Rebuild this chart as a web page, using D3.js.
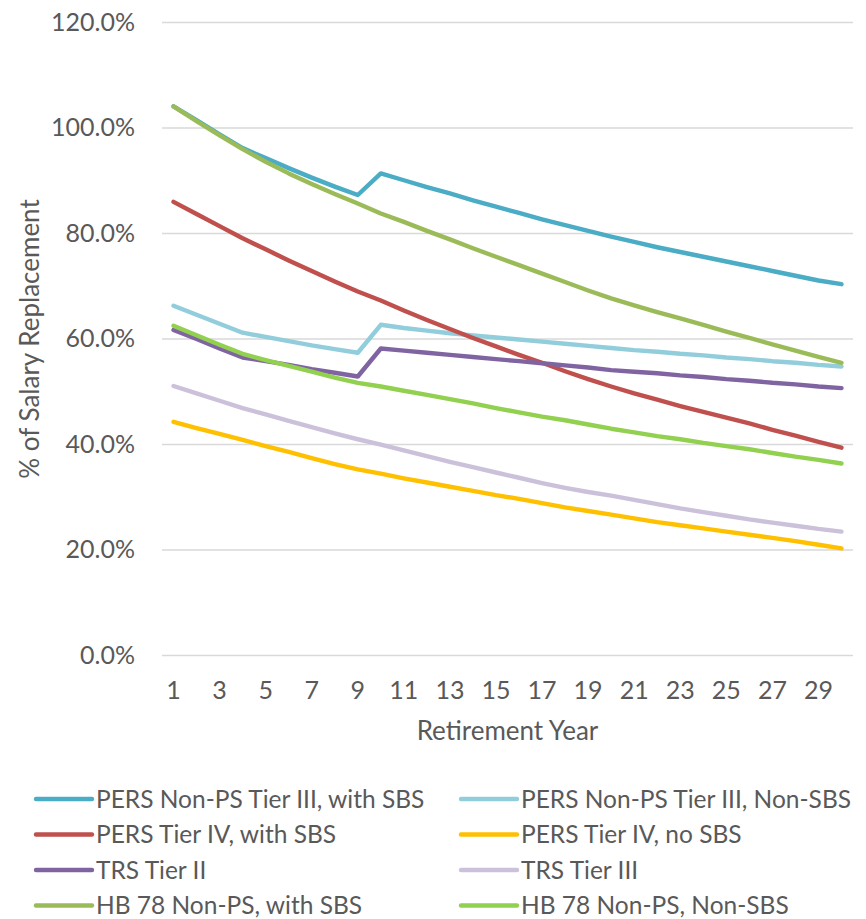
<!DOCTYPE html>
<html>
<head>
<meta charset="utf-8">
<script src="https://cdn.jsdelivr.net/npm/d3@7"></script>
<style>
  html, body { margin: 0; padding: 0; background: #fff; }
  svg { display: block; }
  text { font-family: Lato, "Open Sans", sans-serif; fill: #595959; }
</style>
</head>
<body>
<svg id="chart" width="866" height="919"></svg>
<script>
// Retirement years on the category axis
const years = d3.range(1, 31);
const yTicks = [0, 20, 40, 60, 80, 100, 120];

// Salary replacement (%) by retirement year, one array per plan
const persNonPsTier3Sbs = [104.0, 101.4, 98.7, 96.1, 94.2, 92.3, 90.5, 88.8, 87.2, 91.3,
  90.0, 88.7, 87.5, 86.2, 85.0, 83.8, 82.6, 81.5, 80.4, 79.3,
  78.3, 77.3, 76.4, 75.5, 74.6, 73.7, 72.8, 71.9, 71.0, 70.3];
const persNonPsTier3NonSbs = [66.2, 64.5, 62.8, 61.1, 60.3, 59.5, 58.7, 58.0, 57.3, 62.6,
  62.0, 61.5, 61.0, 60.6, 60.2, 59.8, 59.4, 59.0, 58.6, 58.2,
  57.8, 57.5, 57.1, 56.8, 56.4, 56.1, 55.7, 55.4, 55.0, 54.7];
const persTier4Sbs = [85.9, 83.6, 81.3, 79.0, 76.9, 74.8, 72.8, 70.8, 68.9, 67.2,
  65.3, 63.5, 61.8, 60.1, 58.5, 56.9, 55.4, 53.8, 52.3, 50.9,
  49.6, 48.4, 47.2, 46.1, 45.0, 43.9, 42.7, 41.6, 40.4, 39.3];
const persTier4NoSbs = [44.2, 43.0, 41.9, 40.8, 39.6, 38.5, 37.3, 36.2, 35.2, 34.4,
  33.5, 32.7, 31.9, 31.1, 30.3, 29.6, 28.8, 28.0, 27.3, 26.6,
  25.9, 25.2, 24.6, 24.0, 23.4, 22.8, 22.2, 21.6, 20.9, 20.2];
const trsTier2 = [61.6, 59.9, 58.1, 56.4, 55.7, 55.0, 54.2, 53.5, 52.8, 58.1,
  57.7, 57.3, 56.9, 56.5, 56.1, 55.7, 55.3, 54.9, 54.5, 54.0,
  53.7, 53.4, 53.0, 52.7, 52.3, 52.0, 51.6, 51.3, 50.9, 50.6];
const trsTier3 = [51.0, 49.6, 48.2, 46.8, 45.6, 44.4, 43.2, 42.0, 40.9, 39.9,
  38.8, 37.7, 36.6, 35.6, 34.6, 33.6, 32.6, 31.7, 30.9, 30.2,
  29.4, 28.6, 27.8, 27.1, 26.4, 25.7, 25.1, 24.5, 23.9, 23.4];
const hb78NonPsSbs = [104.0, 101.2, 98.5, 95.9, 93.5, 91.3, 89.3, 87.4, 85.6, 83.7,
  82.1, 80.4, 78.8, 77.1, 75.5, 73.9, 72.3, 70.7, 69.1, 67.6,
  66.3, 65.0, 63.8, 62.6, 61.3, 60.1, 58.9, 57.7, 56.5, 55.4];
const hb78NonPsNonSbs = [62.4, 60.6, 58.8, 57.1, 55.9, 54.8, 53.7, 52.6, 51.6, 50.9,
  50.1, 49.3, 48.5, 47.7, 46.8, 46.0, 45.2, 44.5, 43.7, 42.9,
  42.2, 41.5, 40.9, 40.2, 39.6, 39.0, 38.3, 37.6, 37.0, 36.3];

const seriesNames = [
  "PERS Non-PS Tier III, with SBS", "PERS Non-PS Tier III, Non-SBS",
  "PERS Tier IV, with SBS", "PERS Tier IV, no SBS",
  "TRS Tier II", "TRS Tier III",
  "HB 78 Non-PS, with SBS", "HB 78 Non-PS, Non-SBS"
];
const seriesValues = [
  persNonPsTier3Sbs, persNonPsTier3NonSbs,
  persTier4Sbs, persTier4NoSbs,
  trsTier2, trsTier3,
  hb78NonPsSbs, hb78NonPsNonSbs
];
const seriesColors = ["#4BACC6", "#92CDDC", "#C0504D", "#FFC000",
                      "#8064A2", "#CCC1DA", "#9BBB59", "#92D050"];

const series = seriesNames.map((name, i) => ({
  name, color: seriesColors[i],
  points: years.map((yr, j) => ({ yr, v: seriesValues[i][j] }))
}));

const svg = d3.select("#chart");
const plot = { left: 162, right: 853, top: 22, bottom: 655 };

const x = d3.scaleBand().domain(years).range([plot.left, plot.right]);
const xc = yr => x(yr) + x.bandwidth() / 2;
const y = d3.scaleLinear().domain([0, 120]).range([plot.bottom, plot.top]);

// Horizontal gridlines with percentage labels
const yAxis = d3.axisLeft(y)
  .tickValues(yTicks)
  .tickSize(-(plot.right - plot.left))
  .tickPadding(27)
  .tickFormat(d => d.toFixed(1) + "%");
const gy = svg.append("g")
  .attr("transform", `translate(${plot.left},0)`)
  .call(yAxis);
gy.select(".domain").remove();
gy.selectAll(".tick line").attr("stroke", "#D9D9D9").attr("stroke-width", 1.5);
gy.selectAll(".tick text")
  .attr("font-size", 25)
  .attr("font-family", "Lato, sans-serif")
  .attr("fill", "#595959");

// Category labels on every other year
const xAxis = d3.axisBottom(x)
  .tickValues(years.filter(d => d % 2 === 1))
  .tickSize(0)
  .tickPadding(26);
const gx = svg.append("g")
  .attr("transform", `translate(0,${plot.bottom})`)
  .call(xAxis);
gx.select(".domain").remove();
gx.selectAll(".tick text")
  .attr("font-size", 25)
  .attr("font-family", "Lato, sans-serif")
  .attr("fill", "#595959");

// Axis titles
svg.append("text")
  .attr("x", (plot.left + plot.right) / 2)
  .attr("y", 740)
  .attr("text-anchor", "middle")
  .attr("font-size", 26)
  .text("Retirement Year");
svg.append("text")
  .attr("transform", `translate(39,339) rotate(-90)`)
  .attr("text-anchor", "middle")
  .attr("font-size", 26)
  .text("% of Salary Replacement");

// Series lines
const line = d3.line().x(d => xc(d.yr)).y(d => y(d.v));
svg.append("g").selectAll("path")
  .data(series)
  .join("path")
  .attr("d", d => line(d.points))
  .attr("fill", "none")
  .attr("stroke", d => d.color)
  .attr("stroke-width", 4.4)
  .attr("stroke-linejoin", "round")
  .attr("stroke-linecap", "round");

// Legend: two columns, four rows
const legend = svg.append("g");
const item = legend.selectAll("g")
  .data(series)
  .join("g")
  .attr("transform", (d, i) => `translate(${i % 2 === 0 ? 36 : 461},${799 + Math.floor(i / 2) * 35.5})`);
item.append("line")
  .attr("x1", 0).attr("x2", 56)
  .attr("stroke", d => d.color)
  .attr("stroke-width", 4.4)
  .attr("stroke-linecap", "round");
item.append("text")
  .attr("x", 60)
  .attr("dy", "0.36em")
  .attr("font-size", 24.5)
  .text(d => d.name);
</script>
</body>
</html>
